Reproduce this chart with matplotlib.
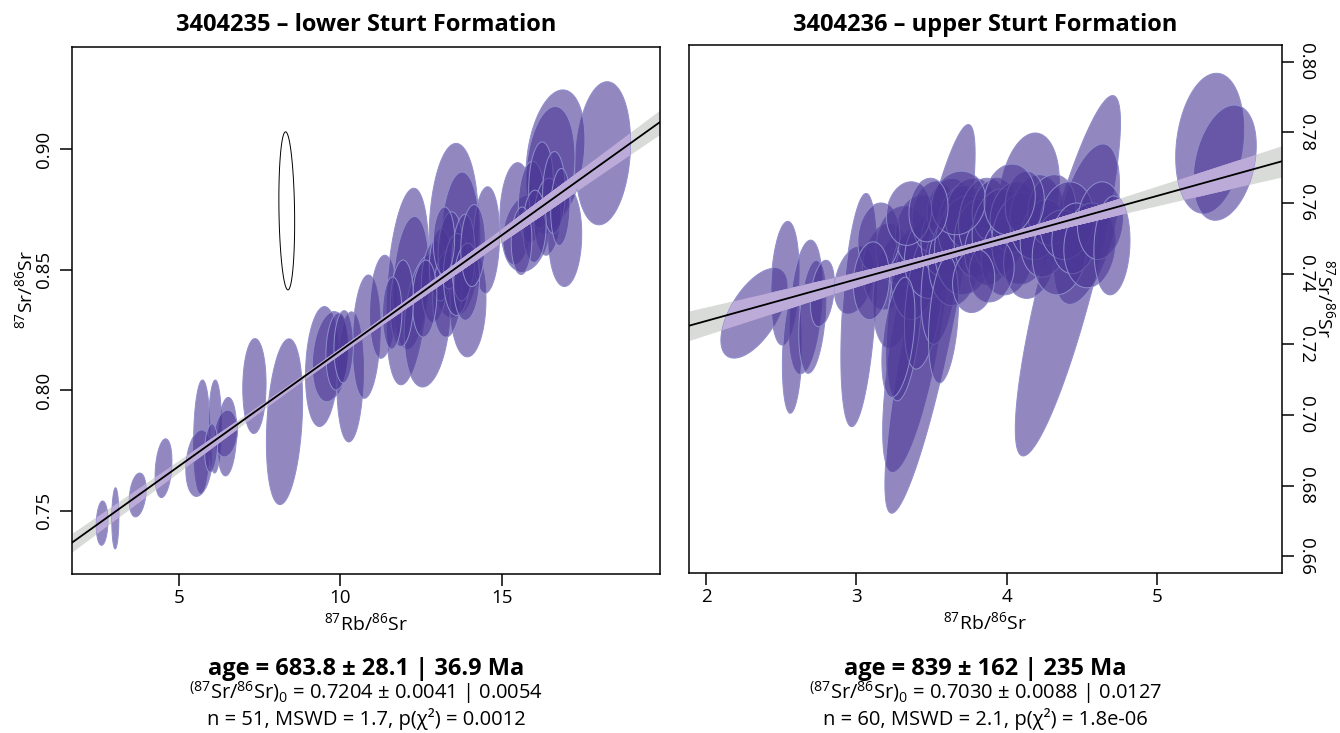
import numpy as np
import matplotlib
matplotlib.use('Agg')
import matplotlib.pyplot as plt
from matplotlib.patches import Polygon

plt.rcParams['font.family'] = ['Open Sans', 'DejaVu Sans']
plt.rcParams['mathtext.fontset'] = 'custom'
plt.rcParams['mathtext.rm'] = 'Open Sans'
plt.rcParams['mathtext.it'] = 'Open Sans:italic'
plt.rcParams['mathtext.bf'] = 'Open Sans:bold'

# --- lower Sturt Formation (3404235): ellipse centre, half extent in x / y, correlation
lower_x = [2.63, 3.04, 3.73, 4.53, 5.71, 6.12, 6.49, 5.63, 6.46, 7.34,
           8.27, 9.43, 9.69, 10.30, 10.80, 11.31, 12.07, 12.18, 13.50, 13.70,
           13.95, 14.51, 15.43, 12.68, 18.12, 16.65, 16.49, 16.95, 15.73, 12.90,
           13.10, 13.30, 13.40, 13.60, 13.80, 13.90, 14.10, 13.20, 12.60, 11.90,
           11.60, 15.90, 16.20, 16.40, 16.60, 16.00, 16.80, 15.60, 9.90, 10.10,
           6.00]
lower_y = [0.7448, 0.7468, 0.7565, 0.7676, 0.7807, 0.7849, 0.7807, 0.7697, 0.7820, 0.8017,
           0.7869, 0.8098, 0.8139, 0.8055, 0.8222, 0.8346, 0.8430, 0.8444, 0.8664, 0.8610,
           0.8366, 0.8623, 0.8734, 0.8290, 0.8983, 0.8969, 0.8914, 0.8637, 0.8651, 0.8450,
           0.8520, 0.8400, 0.8580, 0.8480, 0.8550, 0.8450, 0.8600, 0.8620, 0.8380, 0.8360,
           0.8320, 0.8780, 0.8850, 0.8720, 0.8820, 0.8680, 0.8760, 0.8620, 0.8160, 0.8180,
           0.7760]
lower_ex = [0.18, 0.11, 0.26, 0.26, 0.25, 0.20, 0.30, 0.41, 0.36, 0.36,
            0.56, 0.51, 0.56, 0.41, 0.43, 0.41, 0.66, 0.56, 0.76, 0.61,
            0.55, 0.41, 0.50, 0.71, 0.85, 0.91, 0.76, 0.51, 0.71, 0.40,
            0.35, 0.45, 0.38, 0.42, 0.36, 0.40, 0.38, 0.33, 0.38, 0.36,
            0.30, 0.40, 0.38, 0.42, 0.35, 0.36, 0.30, 0.32, 0.35, 0.30,
            0.20]
lower_ey = [0.0092, 0.0127, 0.0091, 0.0122, 0.0235, 0.0193, 0.0163, 0.0138, 0.0097, 0.0197,
            0.0344, 0.0249, 0.0187, 0.0270, 0.0256, 0.0214, 0.0408, 0.0277, 0.0360, 0.0295,
            0.0228, 0.0221, 0.0210, 0.0277, 0.0297, 0.0277, 0.0263, 0.0207, 0.0159, 0.0170,
            0.0150, 0.0180, 0.0160, 0.0170, 0.0180, 0.0160, 0.0170, 0.0140, 0.0160, 0.0180,
            0.0150, 0.0170, 0.0180, 0.0160, 0.0170, 0.0150, 0.0160, 0.0140, 0.0160, 0.0150,
            0.0100]
lower_rho = [0.10, 0.05, 0.25, 0.25, 0.10, 0.05, 0.15, 0.20, 0.15, 0.05,
             0.25, 0.15, 0.20, 0.10, 0.15, 0.15, 0.30, 0.20, 0.10, 0.10,
             0.05, 0.10, 0.10, 0.20, 0.15, 0.25, 0.20, 0.05, 0.15, 0.10,
             0.05, 0.10, 0.10, 0.05, 0.15, 0.10, 0.10, 0.05, 0.10, 0.10,
             0.05, 0.10, 0.10, 0.10, 0.05, 0.05, 0.10, 0.05, 0.10, 0.05,
             0.15]
# rejected aliquot (drawn unfilled)
lower_out = [8.34, 0.8744, 0.244, 0.0328, -0.15]

# --- upper Sturt Formation (3404236)
upper_x = [2.319, 2.525, 2.663, 2.574, 2.707, 2.774, 2.984, 3.017, 3.395, 3.490,
           4.407, 4.530, 4.150, 5.350, 5.450, 3.20, 3.25, 3.30, 3.32, 3.38,
           3.42, 3.45, 3.50, 3.52, 3.55, 3.60, 3.62, 3.65, 3.70, 3.72,
           3.76, 3.80, 3.85, 3.88, 3.92, 3.95, 4.00, 4.05, 4.10, 4.15,
           4.20, 4.25, 4.30, 4.35, 4.40, 4.45, 4.55, 4.62, 3.15, 3.10,
           3.35, 3.58, 3.68, 3.90, 4.12, 3.48, 3.28, 4.70, 3.78, 4.02]
upper_y = [0.7288, 0.7373, 0.7306, 0.7175, 0.7278, 0.7344, 0.7382, 0.7297, 0.7224, 0.7272,
           0.7394, 0.7540, 0.7628, 0.7769, 0.7714, 0.742, 0.735, 0.748, 0.728, 0.740,
           0.752, 0.733, 0.745, 0.756, 0.738, 0.750, 0.758, 0.744, 0.754, 0.748,
           0.757, 0.750, 0.755, 0.747, 0.758, 0.752, 0.745, 0.756, 0.750, 0.744,
           0.756, 0.750, 0.758, 0.746, 0.755, 0.750, 0.748, 0.755, 0.750, 0.738,
           0.757, 0.727, 0.760, 0.741, 0.760, 0.758, 0.722, 0.748, 0.738, 0.761]
upper_ex = [0.22, 0.094, 0.11, 0.066, 0.09, 0.08, 0.13, 0.12, 0.22, 0.30,
            0.35, 0.22, 0.20, 0.226, 0.21, 0.16, 0.14, 0.17, 0.12, 0.15,
            0.16, 0.13, 0.18, 0.15, 0.12, 0.17, 0.15, 0.17, 0.16, 0.20,
            0.17, 0.15, 0.17, 0.16, 0.15, 0.18, 0.17, 0.16, 0.20, 0.17,
            0.18, 0.16, 0.16, 0.18, 0.18, 0.15, 0.17, 0.15, 0.14, 0.12,
            0.15, 0.10, 0.18, 0.15, 0.13, 0.13, 0.11, 0.12, 0.14, 0.17]
upper_ey = [0.0127, 0.0175, 0.0189, 0.0170, 0.0160, 0.0094, 0.0094, 0.0330, 0.0384, 0.0550,
            0.0510, 0.0227, 0.0170, 0.0198, 0.0163, 0.012, 0.016, 0.011, 0.024, 0.013,
            0.010, 0.020, 0.012, 0.010, 0.018, 0.011, 0.009, 0.013, 0.011, 0.014,
            0.010, 0.011, 0.012, 0.010, 0.009, 0.012, 0.011, 0.010, 0.013, 0.011,
            0.012, 0.011, 0.010, 0.012, 0.011, 0.010, 0.012, 0.011, 0.010, 0.011,
            0.009, 0.018, 0.009, 0.009, 0.009, 0.009, 0.017, 0.014, 0.009, 0.010]
upper_rho = [0.6, 0.2, 0.3, 0.2, 0.3, 0.3, 0.3, 0.4, 0.7, 0.85,
             0.85, 0.5, 0.2, 0.2, 0.3, 0.1, 0.2, 0.1, 0.4, 0.1,
             0.1, 0.4, 0.1, 0.1, 0.3, 0.1, 0.1, 0.1, 0.1, 0.1,
             0.1, 0.1, 0.1, 0.1, 0.1, 0.1, 0.1, 0.1, 0.1, 0.1,
             0.1, 0.1, 0.1, 0.1, 0.1, 0.1, 0.1, 0.1, 0.1, 0.1,
             0.1, 0.3, 0.1, 0.1, 0.1, 0.1, 0.4, 0.1, 0.1, 0.1]

# isochron fits: intercept, slope, envelope (min half-width, growth, centre)
lower_fit = [0.7204, 0.0096, 0.0013, 4.7e-4, 9.5]
upper_fit = [0.7030, 0.0118, 0.0012, 2.1e-3, 3.8]

titles = ['3404235 \u2013 lower Sturt Formation', '3404236 \u2013 upper Sturt Formation']
age_lines = ['age = 683.8 \u00b1 28.1 | 36.9 Ma', 'age = 839 \u00b1 162 | 235 Ma']
init_lines = ['$^{(87}$Sr/$^{86}$Sr)$_0$ = 0.7204 \u00b1 0.0041 | 0.0054',
              '$^{(87}$Sr/$^{86}$Sr)$_0$ = 0.7030 \u00b1 0.0088 | 0.0127']
stat_lines = ['n = 51, MSWD = 1.7, p(\u03c7\u00b2) = 0.0012',
              'n = 60, MSWD = 2.1, p(\u03c7\u00b2) = 1.8e-06']

FILL = (75 / 255, 55 / 255, 150 / 255, 0.6)
EDGE = (0.56, 0.56, 0.80)
BAND = '#D9DBD9'
BAND_IN = '#BCABD8'


def ellipse_xy(x, y, ex, ey, rho, n=120):
    t = np.linspace(0, 2 * np.pi, n)
    return np.column_stack([x + ex * np.cos(t),
                            y + ey * (rho * np.cos(t) + np.sqrt(1 - rho ** 2) * np.sin(t))])


def panel(ax, xs, ys, exs, eys, rhos, fit, xlim, ylim):
    ax.set_xlim(*xlim)
    ax.set_ylim(*ylim)
    a, b, a_env, b_env, x0 = fit
    xx = np.linspace(xlim[0], xlim[1], 300)
    yy = a + b * xx
    hw = np.sqrt(a_env ** 2 + b_env ** 2 * (xx - x0) ** 2)
    ax.fill_between(xx, yy - hw, yy + hw, color=BAND, lw=0, zorder=1)
    for x, y, ex, ey, r in zip(xs, ys, exs, eys, rhos):
        p = Polygon(ellipse_xy(x, y, ex, ey, r), closed=True, fc=FILL, ec=EDGE,
                    lw=0.7, zorder=2)
        ax.add_patch(p)
        inner = ax.fill_between(xx, yy - hw, yy + hw, color=BAND_IN, lw=0, zorder=3)
        inner.set_clip_path(p)
    ax.plot(xx, yy, color='k', lw=1.3, zorder=4)
    for s in ax.spines.values():
        s.set_linewidth(1.1)
    ax.tick_params(direction='out', length=8.5, width=1.1, labelsize=13.5)


fig = plt.figure(figsize=(13.4, 7.33), dpi=100)
ax1 = fig.add_axes([72 / 1340, 159 / 733, 588 / 1340, 527 / 733])
ax2 = fig.add_axes([689 / 1340, 160 / 733, 593 / 1340, 528 / 733])

panel(ax1, lower_x, lower_y, lower_ex, lower_ey, lower_rho, lower_fit,
      (1.70, 19.88), (0.7237, 0.9424))
ax1.add_patch(Polygon(ellipse_xy(*lower_out), closed=True, fc='white', ec='black',
                      lw=0.7, zorder=2))
panel(ax2, upper_x, upper_y, upper_ex, upper_ey, upper_rho, upper_fit,
      (1.887, 5.831), (0.6553, 0.8047))

ax1.set_xticks([5, 10, 15])
ax1.set_yticks([0.75, 0.80, 0.85, 0.90])
ax1.set_yticklabels(['0.75', '0.80', '0.85', '0.90'], rotation=90, va='center')
ax1.tick_params(axis='x', pad=2)
ax1.tick_params(axis='y', pad=5)

ax2.set_xticks([2, 3, 4, 5])
ax2.yaxis.tick_right()
ax2.yaxis.set_label_position('right')
yt2 = [0.66, 0.68, 0.70, 0.72, 0.74, 0.76, 0.78, 0.80]
ax2.set_yticks(yt2)
ax2.set_yticklabels([f'{v:.2f}' for v in yt2], rotation=-90, va='center')
ax2.tick_params(axis='x', pad=2)
ax2.tick_params(axis='y', pad=2)

xlab = r'$^{87}$Rb/$^{86}$Sr'
ylab = r'$^{87}$Sr/$^{86}$Sr'
for ax in (ax1, ax2):
    ax.set_xlabel(xlab, fontsize=14)
    ax.xaxis.set_label_coords(0.5, -0.093)
    ax.xaxis.label.set_va('center')
ax1.set_ylabel(ylab, fontsize=14)
ax1.yaxis.set_label_coords(-0.080, 0.54)
ax1.yaxis.label.set_va('center')
ax2.set_ylabel(ylab, fontsize=14, rotation=-90)
ax2.yaxis.set_label_coords(1.072, 0.52)
ax2.yaxis.label.set_va('center')

for ax, t, l1, l2, l3 in zip((ax1, ax2), titles, age_lines, init_lines, stat_lines):
    pos = ax.get_position()
    cx = (pos.x0 + pos.x1) / 2
    fig.text(cx, 1 - 25 / 733, t, ha='center', va='center', fontsize=17, fontweight='bold')
    fig.text(cx, 1 - 669 / 733, l1, ha='center', va='center', fontsize=17, fontweight='bold')
    fig.text(cx, 1 - 693 / 733, l2, ha='center', va='center', fontsize=14.5)
    fig.text(cx, 1 - 719 / 733, l3, ha='center', va='center', fontsize=14.5)

fig.savefig('out.png', dpi=100)
